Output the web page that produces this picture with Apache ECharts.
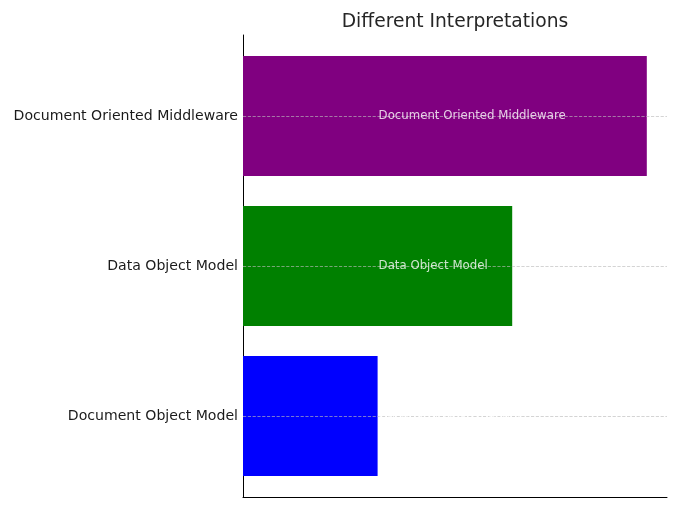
<!DOCTYPE html>
<html><head><meta charset="utf-8">
<script src="https://cdn.jsdelivr.net/npm/echarts@6/dist/echarts.min.js"></script>
<style>html,body{margin:0;padding:0;background:#fff}#c{width:680px;height:510px}</style>
</head><body><div id="c"></div>
<script>
const categories = ['Document Object Model', 'Data Object Model', 'Document Oriented Middleware'];
const values = [1, 2, 3];
const barColors = ['#0000ff', '#008000', '#800080'];
const labelX = 1;
const xMax = 3.15;

const chart = echarts.init(document.getElementById('c'));
const font = 'DejaVu Sans';
chart.setOption({
  animation: false,
  title: {
    text: 'Different Interpretations',
    left: 450, top: 8, textAlign: 'center',
    textStyle: { fontFamily: font, fontSize: 18.7, fontWeight: 'normal', color: '#262626' }
  },
  grid: [
    { left: 243, right: 13, top: 41, bottom: 19 },
    { left: 243, right: 13, top: 35, bottom: 13 }
  ],
  xAxis: [
    { type: 'value', gridIndex: 0, min: 0, max: xMax, show: false },
    { type: 'value', gridIndex: 1, min: 0, max: 1,
      axisLine: { show: true, lineStyle: { color: '#000', width: 1 } },
      axisTick: { show: false }, axisLabel: { show: false }, splitLine: { show: false } }
  ],
  yAxis: [
    { type: 'category', gridIndex: 0, data: categories,
      axisLine: { show: false }, axisTick: { show: false }, splitLine: { show: false },
      axisLabel: { fontFamily: font, fontSize: 14.1, color: '#1a1a1a', margin: 5 } },
    { type: 'value', gridIndex: 1, min: 0, max: 1,
      axisLine: { show: true, lineStyle: { color: '#000', width: 1 } },
      axisTick: { show: false }, axisLabel: { show: false }, splitLine: { show: false } }
  ],
  series: [
    {
      type: 'bar', xAxisIndex: 0, yAxisIndex: 0, barWidth: '80%',
      data: values.map((v, i) => ({ value: v, itemStyle: { color: barColors[i] } })),
      markLine: {
        silent: true, symbol: 'none', label: { show: false },
        lineStyle: { type: 'dashed', color: '#bbbbbb', width: 0.8, opacity: 0.8 },
        data: categories.map(c => ({ yAxis: c }))
      }
    },
    {
      type: 'scatter', xAxisIndex: 0, yAxisIndex: 0, symbolSize: 0, z: 20, zlevel: 1,
      data: categories.map(c => [labelX, c]),
      label: {
        show: true, position: 'right', distance: 1,
        formatter: p => p.data[1],
        fontFamily: font, fontSize: 11.75, color: '#ffffff'
      }
    }
  ]
});
</script></body></html>
